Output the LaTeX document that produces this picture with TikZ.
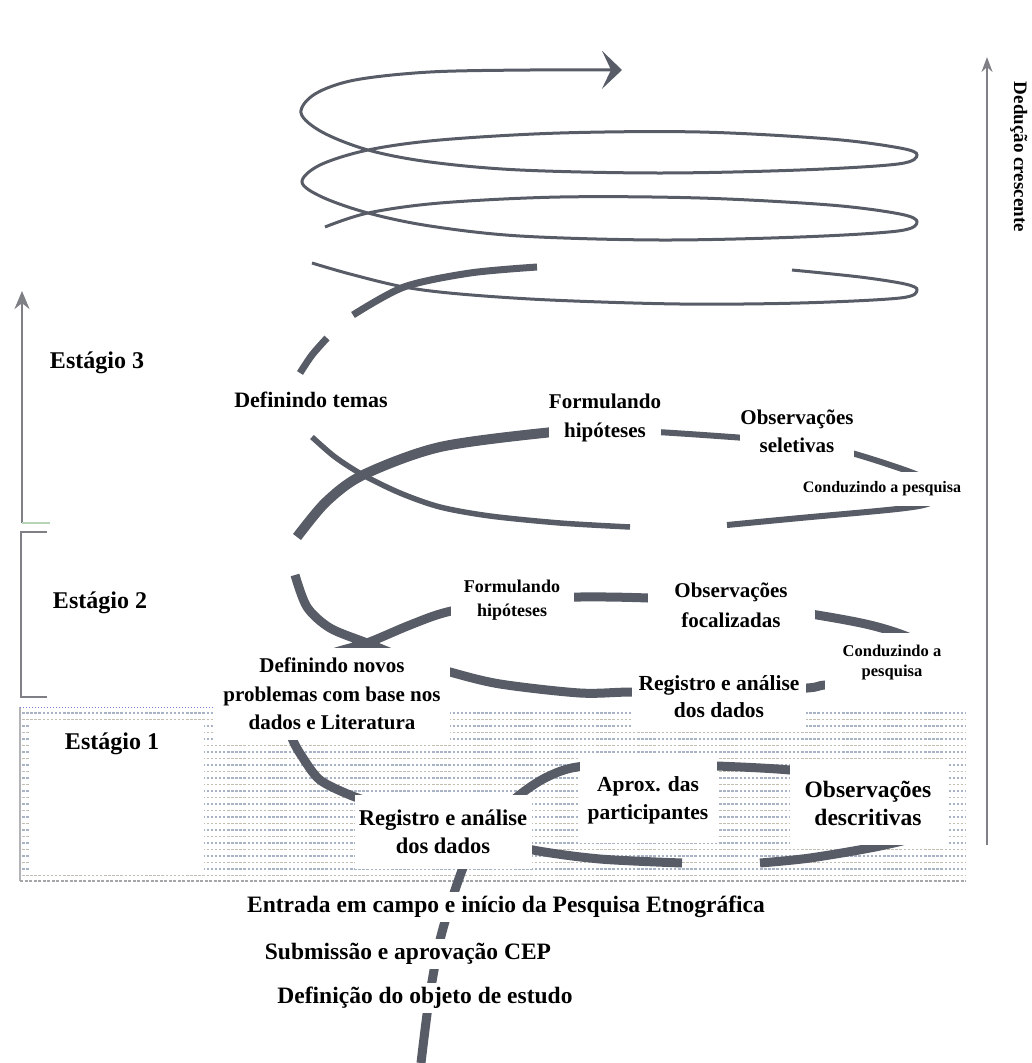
\documentclass[tikz,border=0pt]{standalone}
\usepackage{fontspec}
\setmainfont{Liberation Serif}
\usepackage{xcolor}
\usepackage{tikz}
\usetikzlibrary{arrows.meta}
\definecolor{ink}{HTML}{585C66}
\definecolor{guide}{HTML}{7E8086}
\definecolor{grain}{HTML}{A9B3C6}
\definecolor{grainb}{HTML}{C2BFB2}
\newcommand{\lblsize}[2]{\fontsize{#1}{#2}\selectfont\bfseries}
\tikzset{
  lbl/.style={fill=white,align=center,inner sep=0pt},
  coil/.style={draw=ink,line width=#1},
  texrow/.style={line width=1.8pt,dash pattern=on 2.5pt off 1.6pt},
}

\begin{document}
\begin{tikzpicture}[x=1pt,y=-1pt]
\useasboundingbox (0,0) rectangle (1031,1063);
% fundo do estagio 1
\foreach \r in {713,726,...,878} \draw[texrow,grain] (22,\r) -- (966,\r);
\foreach \r in {719.5,732.5,...,878} \draw[texrow,grainb] (22,\r) -- (966,\r);
\fill[white] (30,724) rectangle (204,872);
\draw[guide!60,line width=1.2pt] (20,707) -- (20,881);
\draw[guide!70,line width=1.4pt,dash pattern=on 3pt off 1.5pt] (20,881) -- (966,881);
\draw[grain!70!blue,line width=1pt,dotted] (20,707) -- (214,707);
% eixos laterais
\coordinate (stgLow) at (22,523); \coordinate (stgHigh) at (22,291);
\coordinate (brA) at (47,532); \coordinate (brB) at (47,697);
\draw[guide,line width=2.5pt,-{Stealth[length=18pt,width=15pt]}] (stgLow) -- (stgHigh);
\draw[green!25!gray!45,line width=1.5pt] (stgLow) -- ++(28,0);
\draw[guide,line width=2pt] (brA) -- ++(-26,0) |- (brB);
\coordinate (dedLow) at (987,845); \coordinate (dedHigh) at (987,57);
\draw[guide,line width=2pt,-{Stealth[length=15pt,width=11pt]}] (dedLow) -- (dedHigh);
% espiral superior
\draw[coil=3pt,-{Stealth[length=20pt,width=38pt,inset=9pt]}] plot[smooth,tension=0.55] coordinates {(325,227) (368,213) (440,203) (560,197) (700,198) (830,205) (900,214) (917,222) (898,231) (800,237) (660,240) (520,236) (430,226) (368,213) (322,197) (302,182) (320,165) (368,150) (440,140) (560,133) (700,132) (830,139) (900,148) (917,155) (898,164) (800,170) (660,173) (520,170) (430,162) (368,150) (322,132) (301,113) (315,94) (355,80) (430,72) (530,70) (622,70)};
\draw[coil=7pt] plot[smooth] coordinates {(353,315) (404,287) (470,273) (537,267)};
\draw[coil=3pt] plot[smooth,tension=0.55] coordinates {(792,270) (860,277) (905,284) (917,290) (900,298) (800,303) (680,304) (550,300) (460,294) (404,287) (350,274) (312,263)};
% estagio 3
\draw[coil=7pt] plot[smooth] coordinates {(327,338) (312,355) (300,373)};
\draw[coil=10pt] plot[smooth] coordinates {(297,537) (326,502) (363,475) (440,447) (553,432) (605,430)};
\draw[coil=6pt] plot[smooth] coordinates {(600,430) (657,432) (745,438) (800,443) (848,452) (913,473) (945,490) (930,503) (897,509) (800,518) (727,525)};
\draw[coil=5.5pt] plot[smooth] coordinates {(630,527) (560,523) (490,516) (440,507) (400,493) (363,475) (335,457) (312,437)};
% estagios 1 e 2
\draw[coil=9pt] plot[smooth] coordinates {(421,1063) (429,1000) (440,940) (455,890) (470,852) (492,822) (517,797) (545,778) (577,767) (640,764) (717,766) (790,770) (860,779) (912,792) (935,812) (922,834) (880,846) (810,858) (760,863)};
\draw[coil=9pt] plot[smooth] coordinates {(682,863) (600,859) (533,850) (480,836) (430,818) (380,805) (350,795) (320,780) (303,758) (292,738) (285,708) (298,676) (328,655) (367,643) (410,625) (447,612) (510,600) (580,597) (648,598) (735,603) (817,615) (870,625) (908,637) (942,656) (930,673) (880,681) (825,685) (807,688) (720,693) (633,692) (580,693) (500,684) (450,672) (405,658) (367,643) (330,628) (307,607) (295,575)};
% rotulos
\node[font=\lblsize{24}{28}] (e3) at (97,363) {Estágio 3};
\node[font=\lblsize{24}{28}] (e2) at (100,603) {Estágio 2};
\node[font=\lblsize{24}{28}] (e1) at (112,744) {Estágio 1};
\node[lbl,font=\lblsize{22}{28}] (dtemas) at (311,400) {Definindo temas};
\node[lbl,font=\lblsize{21}{29},minimum width=104,minimum height=66] (fhip3) at (605,418) {Formulando\\hipóteses};
\node[lbl,font=\lblsize{21}{28},minimum width=106,minimum height=62] (obsel) at (797,431) {Observações\\seletivas};
\node[lbl,font=\lblsize{16}{20},minimum width=186,minimum height=34] (cpesq3) at (882,489) {Conduzindo a pesquisa};
\node[lbl,font=\lblsize{18}{24},minimum width=123,minimum height=70] (fhip2) at (512,600) {Formulando\\hipóteses};
\node[lbl,font=\lblsize{21}{30},minimum width=167,minimum height=65] (obfoc) at (731,605) {Observações\\focalizadas};
\node[lbl,font=\lblsize{16.5}{20},minimum width=135,minimum height=60] (cpesq2) at (892,663) {Conduzindo a\\pesquisa};
\node[lbl,font=\lblsize{21}{28.5},minimum width=235,minimum height=92] (dnovos) at (332,694) {Definindo novos\\problemas com base nos\\dados e Literatura};
\node[lbl,font=\lblsize{21.5}{27},minimum width=174,minimum height=70] (rdados2) at (719,697) {Registro e análise\\dos dados};
\node[lbl,font=\lblsize{21.5}{28},minimum width=137,minimum height=86] (aprox) at (648,800) {Aprox. das\\participantes};
\node[lbl,font=\lblsize{23.5}{28},minimum width=157,minimum height=84] (obdesc) at (868,803) {Observações\\descritivas};
\node[lbl,font=\lblsize{22.5}{28},minimum width=177,minimum height=74] (rdados1) at (443,832) {Registro e análise\\dos dados};
\node[lbl,font=\lblsize{23.5}{28},inner sep=4pt] (entrada) at (506,907) {Entrada em campo e início da Pesquisa Etnográfica};
\node[lbl,font=\lblsize{23.5}{28},inner sep=4pt] (cep) at (408,954) {Submissão e aprovação CEP};
\node[lbl,font=\lblsize{23.5}{28},inner sep=4pt] (objeto) at (425,998) {Definição do objeto de estudo};
\node[font=\lblsize{19}{22},rotate=-90,anchor=base] (deducao) at (1014,157) {Dedução crescente};
\end{tikzpicture}
\end{document}
